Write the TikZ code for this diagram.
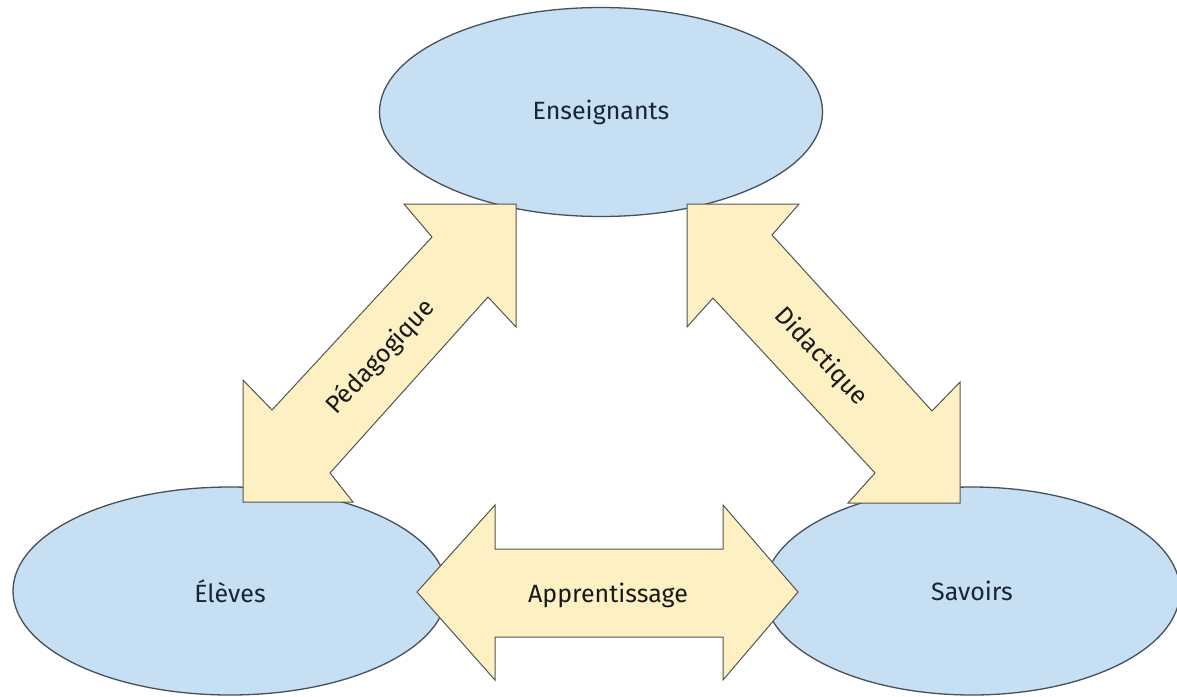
\documentclass[tikz,border=0pt]{standalone}
\usepackage{fontspec}
\setmainfont{Fira Sans}
\usepackage{tikz}
\usepackage{xcolor}

\definecolor{polebleu}{RGB}{198,223,243}
\definecolor{polebord}{RGB}{70,80,92}
\definecolor{blocjaune}{RGB}{253,241,196}
\definecolor{blocbord}{RGB}{85,85,80}
\definecolor{textpole}{RGB}{25,36,52}

\tikzset{
  pole/.style={ellipse, fill=polebleu, draw=polebord, line width=1.3pt,
    text=textpole, font=\fontsize{25}{29}\selectfont, inner sep=0pt},
  bloc/.style={fill=blocjaune, draw=blocbord, line width=1pt, line join=miter},
  etiq/.style={text=black!90, font=\fontsize{25}{29}\selectfont, inner sep=0pt}
}

\usetikzlibrary{shapes.geometric}

\begin{document}
\begin{tikzpicture}[x=1pt, y=-1pt]
\useasboundingbox (0,0) rectangle (1177,696);
\node[pole, minimum width=443pt, minimum height=209pt] (ens) at (601,112) {Enseignants};
\node[pole, minimum width=434pt, minimum height=208pt] (elv) at (230,591) {Élèves};
\node[pole, minimum width=416pt, minimum height=208pt] (sav) at (972,591) {Savoirs};

\filldraw[bloc] (243,502) -- (243,380) -- (272,410) -- (432,237) -- (404,204) -- (516,204)
  -- (516,327) -- (488,297) -- (330,473) -- (353,502) -- cycle;
\filldraw[bloc] (687,204) -- (799,204) -- (772,235) -- (932,411) -- (960,382) -- (960,503)
  -- (848,503) -- (875,473) -- (713,298) -- (687,327) -- cycle;
\filldraw[bloc] (417,592) -- (495,505) -- (495,549) -- (723,549) -- (723,505) -- (798,592)
  -- (723,680) -- (723,637) -- (495,637) -- (495,680) -- cycle;

\node[etiq, rotate=47] (peda) at (381,357) {Pédagogique};
\node[etiq, rotate=-47] (dida) at (821,357) {Didactique};
\node[etiq] (appr) at (608,595) {Apprentissage};

\end{tikzpicture}
\end{document}
